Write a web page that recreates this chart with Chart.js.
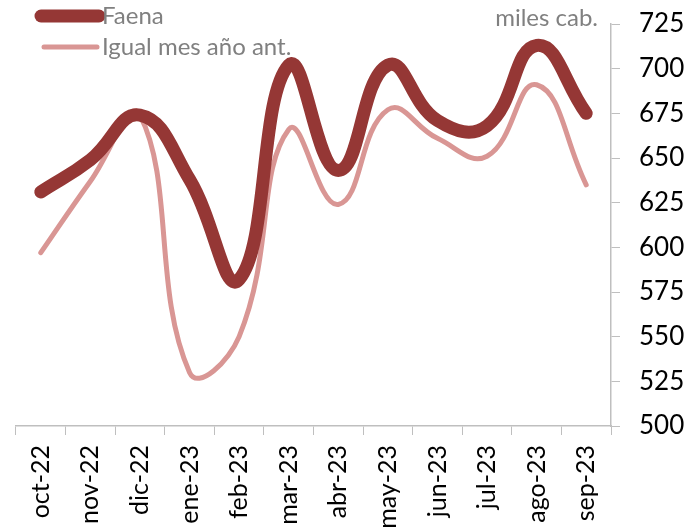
<!DOCTYPE html>
<html>
<head>
<meta charset="utf-8">
<script src="https://cdn.jsdelivr.net/npm/chart.js@4"></script>
<style>
  html, body { margin: 0; padding: 0; background: #fff; }
  #wrap { position: relative; width: 691px; height: 532px; }
</style>
</head>
<body>
<div id="wrap"><canvas id="chart" width="691" height="532"></canvas></div>
<script>
// months and values (miles de cabezas)
const months = ["oct-22", "nov-22", "dic-22", "ene-23", "feb-23", "mar-23",
                "abr-23", "may-23", "jun-23", "jul-23", "ago-23", "sep-23"];
const faena = [631, 649, 674, 638, 582, 702, 643, 702, 671, 668, 713, 675];
const igualMesAnoAnt = [597, 637, 674, 530, 550, 666, 624, 677, 661, 651, 691, 635];
const yTicks = [500, 525, 550, 575, 600, 625, 650, 675, 700, 725];

const FONT = "Lato, 'Open Sans', sans-serif";
const AXIS = "#BFBFBF";

// legend at top left + unit label, drawn on the canvas
const legendPlugin = {
  id: "legendTopLeft",
  afterDraw(chart) {
    const ctx = chart.ctx;
    const items = [
      { ds: chart.data.datasets[1], y: 16, x0: 41, x1: 99 },
      { ds: chart.data.datasets[0], y: 47, x0: 44, x1: 97 },
    ];
    ctx.save();
    items.forEach((it) => {
      ctx.beginPath();
      ctx.lineCap = "round";
      ctx.strokeStyle = it.ds.borderColor;
      ctx.lineWidth = it.ds.borderWidth;
      ctx.moveTo(it.x0, it.y);
      ctx.lineTo(it.x1, it.y);
      ctx.stroke();
      ctx.fillStyle = "#808080";
      ctx.font = "24px " + FONT;
      ctx.textBaseline = "middle";
      ctx.textAlign = "left";
      ctx.fillText(it.ds.label, 102, it.y);
    });
    ctx.font = "24px " + FONT;
    ctx.fillStyle = "#808080";
    ctx.textAlign = "right";
    ctx.textBaseline = "middle";
    ctx.fillText("miles cab.", 598, 18);
    ctx.restore();
  },
};

new Chart(document.getElementById("chart"), {
  type: "line",
  data: {
    labels: months,
    datasets: [
      {
        label: "Igual mes año ant.",
        data: igualMesAnoAnt,
        borderColor: "#D99694",
        borderWidth: 5,
        tension: 0.45,
        pointRadius: 0,
        borderCapStyle: "round",
        borderJoinStyle: "round",
        order: 2,
      },
      {
        label: "Faena",
        data: faena,
        borderColor: "#953735",
        borderWidth: 13,
        tension: 0.45,
        pointRadius: 0,
        borderCapStyle: "round",
        borderJoinStyle: "round",
        order: 1,
      },
    ],
  },
  options: {
    responsive: false,
    animation: false,
    layout: { padding: { left: 16, top: 24, right: 0, bottom: 0 } },
    plugins: {
      legend: { display: false },
      tooltip: { enabled: false },
    },
    scales: {
      x: {
        offset: true,
        grid: { offset: true, drawOnChartArea: false, tickLength: 9, color: AXIS },
        border: { color: AXIS, width: 1.5 },
        ticks: {
          minRotation: 90,
          maxRotation: 90,
          padding: 10,
          color: "#000",
          font: { family: FONT, size: 25 },
        },
        afterFit(scale) {
          scale.height = 106;
          scale.paddingLeft = 0;
          scale.paddingRight = 0;
        },
      },
      y: {
        position: "right",
        min: 500,
        max: 725,
        afterBuildTicks(scale) { scale.ticks = yTicks.map((v) => ({ value: v })); },
        grid: { drawOnChartArea: false, tickLength: 9, color: AXIS },
        border: { color: AXIS, width: 1.5 },
        ticks: {
          padding: 19,
          color: "#000",
          font: { family: FONT, size: 26 },
        },
        afterFit(scale) {
          scale.width = 80;
          scale.paddingTop = 0;
          scale.paddingBottom = 0;
        },
      },
    },
  },
  plugins: [legendPlugin],
});
</script>
</body>
</html>
